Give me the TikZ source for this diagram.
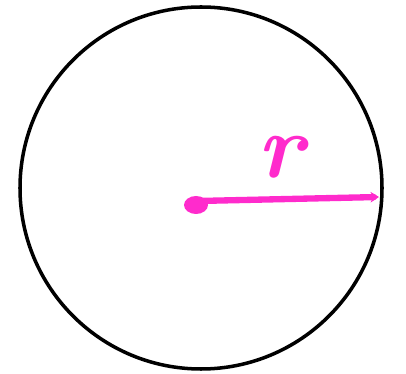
\documentclass[tikz,border=0pt]{standalone}
\usetikzlibrary{arrows.meta,calc}
\definecolor{RadiusClr}{rgb}{1,0.17,0.8}

\begin{document}
\begin{tikzpicture}[line width=5pt]
\useasboundingbox (0,0) rectangle (20.3,18.65);

\coordinate (C) at (10.05,9.25);
\coordinate (D) at (9.8,8.4);
\coordinate (O) at ($(D)+(0.1,0.2)$);
\coordinate (P) at (18.95,8.8);

\draw (C) circle (9.05);

% the radius
\draw[RadiusClr,line width=9pt,line cap=round,-{Stealth[length=12pt,width=15pt]}] (O) -- (P);
\fill[RadiusClr] (D) ellipse (0.6 and 0.45);

\node[text=RadiusClr,font=\fontsize{130}{130}\selectfont\bfseries\itshape] (rlabel) at (14.0,10.8) {r};

\end{tikzpicture}
\end{document}
